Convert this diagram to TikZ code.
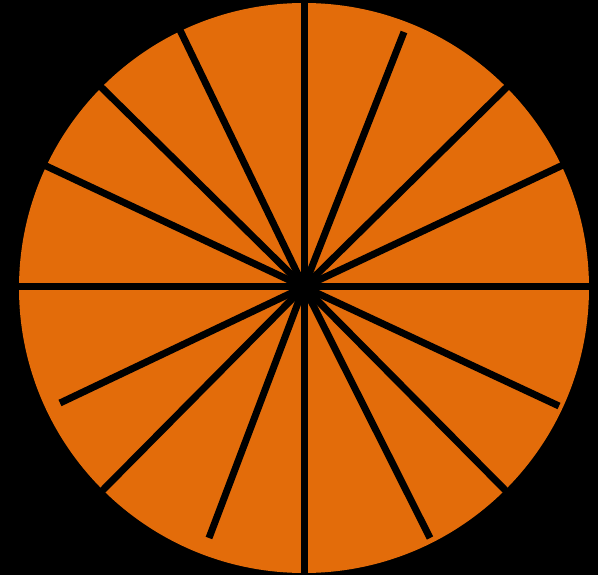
\documentclass[tikz,border=0pt]{standalone}
\definecolor{wheelorange}{HTML}{E36C0A}
\begin{document}
\begin{tikzpicture}[x=1pt,y=-1pt,spoke/.style={line width=7pt,black}]
\fill[black] (0,0) rectangle (598,575);
\useasboundingbox (0,0) rectangle (598,575);
\coordinate (c) at (304,287);
\fill[wheelorange] (304,288) circle (285);
% spokes reaching the rim (extended, hidden by black background)
\foreach \p in {(304,-5),(304,580),(10,287),(598,287),(178,26),(44,165),(99,85),(509,85),(99,494),(509,494),(563,165)}
  \draw[spoke] (c) -- \p;
% spokes stopping short of the rim
\coordinate (e1) at (404,32);
\coordinate (e2) at (559,406);
\coordinate (e3) at (430,538);
\coordinate (e4) at (209,538);
\coordinate (e5) at (60,403);
\foreach \e in {e1,e2,e3,e4,e5}
  \draw[spoke] (c) -- (\e);
\fill[black] (c) circle (9);
\end{tikzpicture}
\end{document}
